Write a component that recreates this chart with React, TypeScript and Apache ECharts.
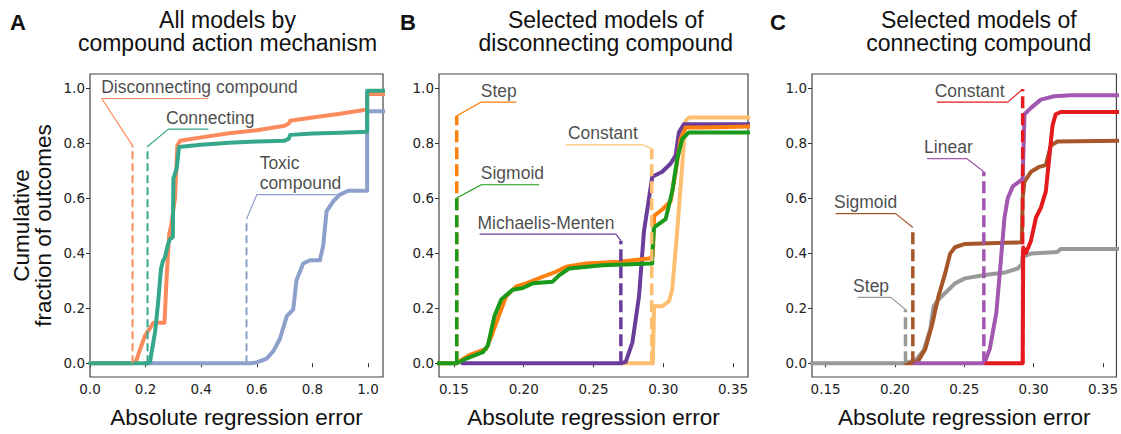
import React, { useEffect, useRef } from "react";
import * as echarts from "echarts";

const FONT = "'Liberation Sans', Arial, sans-serif";
const TICK_FONT = "'DejaVu Sans', sans-serif";

// ---------- tick values ----------
const ticksAX = [0, 0.2, 0.4, 0.6, 0.8, 1.0];
const ticksY = [0, 0.2, 0.4, 0.6, 0.8, 1.0];
const ticksBCX = [0.15, 0.2, 0.25, 0.3, 0.35];

// ---------- Panel A: all models by compound action mechanism ----------
const aDisconnecting = [[0,0],[0.155,0],[0.165,0.005],[0.18,0.05],[0.198,0.1],[0.21,0.118],[0.228,0.147],[0.268,0.147],[0.275,0.3],[0.285,0.469],[0.292,0.5],[0.3,0.56],[0.306,0.6],[0.314,0.79],[0.324,0.808],[0.4,0.82],[0.5,0.835],[0.6,0.846],[0.7,0.862],[0.715,0.87],[0.72,0.88],[0.8,0.892],[0.9,0.906],[0.997,0.921],[0.997,0.977],[1.06,0.977]];
const aConnecting = [[0,0],[0.21,0],[0.216,0.005],[0.225,0.06],[0.234,0.112],[0.245,0.22],[0.255,0.34],[0.262,0.37],[0.27,0.386],[0.28,0.43],[0.288,0.451],[0.298,0.457],[0.3,0.671],[0.312,0.707],[0.32,0.785],[0.4,0.793],[0.5,0.8],[0.6,0.805],[0.7,0.808],[0.715,0.815],[0.72,0.829],[0.8,0.834],[0.9,0.837],[0.997,0.84],[0.997,0.989],[1.06,0.989]];
const aToxic = [[0.2,0],[0.58,0],[0.6,0.003],[0.636,0.017],[0.66,0.045],[0.683,0.088],[0.708,0.171],[0.731,0.195],[0.743,0.302],[0.767,0.362],[0.791,0.374],[0.827,0.374],[0.839,0.427],[0.851,0.552],[0.875,0.588],[0.899,0.612],[0.929,0.626],[0.997,0.626],[0.997,0.915],[1.06,0.915]];

// ---------- Panel B: selected models of disconnecting compound ----------
const bStep = [[0.13,0],[0.1517,0],[0.161,0.029],[0.173,0.052],[0.177,0.1],[0.183,0.183],[0.1874,0.243],[0.1946,0.279],[0.2017,0.29],[0.2136,0.314],[0.2231,0.332],[0.2303,0.35],[0.2446,0.362],[0.2684,0.368],[0.2898,0.38],[0.2925,0.39],[0.2934,0.535],[0.2993,0.558],[0.3053,0.588],[0.3089,0.695],[0.3124,0.814],[0.316,0.856],[0.3279,0.856],[0.37,0.86]];
const bSigmoid = [[0.13,0],[0.152,0],[0.1589,0.017],[0.1707,0.04],[0.1743,0.064],[0.179,0.171],[0.1839,0.231],[0.1921,0.267],[0.1993,0.273],[0.2064,0.29],[0.2207,0.296],[0.2255,0.32],[0.2326,0.344],[0.2564,0.356],[0.2921,0.362],[0.2921,0.398],[0.2934,0.493],[0.3017,0.523],[0.3064,0.624],[0.31,0.743],[0.3136,0.814],[0.3183,0.838],[0.37,0.838]];
const bMichaelis = [[0.156,0],[0.2696,0],[0.2731,0.005],[0.2779,0.076],[0.2826,0.243],[0.2862,0.481],[0.2898,0.6],[0.2921,0.677],[0.2993,0.695],[0.3053,0.725],[0.3089,0.755],[0.3112,0.838],[0.3148,0.868],[0.37,0.868]];
const bConstant = [[0.27,0],[0.2925,0],[0.2934,0.207],[0.2993,0.207],[0.3041,0.225],[0.3064,0.267],[0.31,0.481],[0.3136,0.719],[0.316,0.88],[0.3183,0.892],[0.37,0.892]];

// ---------- Panel C: selected models of connecting compound ----------
const cStep = [[0.13,0],[0.2076,0],[0.2148,0.011],[0.2207,0.046],[0.2255,0.124],[0.2279,0.207],[0.2314,0.231],[0.2362,0.255],[0.2433,0.29],[0.2505,0.308],[0.2648,0.32],[0.2791,0.329],[0.2886,0.344],[0.2915,0.36],[0.2921,0.386],[0.2981,0.398],[0.3171,0.404],[0.3195,0.415],[0.37,0.415]];
const cSigmoid = [[0.208,0],[0.213,0],[0.2171,0.011],[0.2219,0.052],[0.2266,0.136],[0.2314,0.243],[0.2362,0.326],[0.2398,0.398],[0.2433,0.421],[0.2505,0.433],[0.2791,0.437],[0.2915,0.439],[0.2921,0.6],[0.2934,0.659],[0.2981,0.695],[0.3041,0.713],[0.3088,0.719],[0.3124,0.79],[0.3171,0.805],[0.37,0.808]];
const cLinear = [[0.214,0],[0.2645,0],[0.2684,0.052],[0.2731,0.183],[0.2766,0.386],[0.279,0.529],[0.2814,0.6],[0.285,0.642],[0.2898,0.66],[0.2921,0.67],[0.2934,0.904],[0.2981,0.927],[0.3052,0.957],[0.3148,0.969],[0.3267,0.973],[0.37,0.973]];
const cConstant = [[0.2655,0],[0.2921,0],[0.2925,0.42],[0.2945,0.4],[0.2981,0.445],[0.3017,0.529],[0.3052,0.564],[0.3088,0.624],[0.3112,0.743],[0.3136,0.862],[0.3159,0.904],[0.3195,0.912],[0.37,0.912]];

// ---------- annotations: dashed marker, leader line, label anchor ----------
const annA = [
  { text: "Disconnecting compound", color: "#fb8a5c", dash: [[0.153,0],[0.153,0.79]], leader: [[0.153,0.79],[0.042,0.961],[0.426,0.961]], at: [0.042,0.961] },
  { text: "Connecting", color: "#35a88c", dash: [[0.207,0],[0.207,0.787]], leader: [[0.207,0.787],[0.282,0.85],[0.426,0.85]], at: [0.275,0.85] },
  { text: "Toxic\ncompound", color: "#8da0cb", dash: [[0.563,0],[0.563,0.523]], leader: [[0.563,0.523],[0.6,0.612],[0.905,0.612]], at: [0.612,0.612] },
];
const annB = [
  { text: "Step", color: "#ff7f0e", dash: [[0.152,0],[0.152,0.898]], leader: [[0.152,0.898],[0.1696,0.948],[0.1946,0.948]], at: [0.1696,0.948] },
  { text: "Sigmoid", color: "#1a9a1a", dash: [[0.152,0],[0.152,0.6]], leader: [[0.152,0.6],[0.1696,0.648],[0.211,0.648]], at: [0.1696,0.648] },
  { text: "Michaelis-Menten", color: "#6a3d9a", dash: [[0.2696,0],[0.2696,0.445]], leader: [[0.2696,0.445],[0.266,0.469],[0.1684,0.469]], at: [0.1672,0.469] },
  { text: "Constant", color: "#fdbf6f", dash: [[0.2917,0],[0.2917,0.779]], leader: [[0.2917,0.779],[0.285,0.793],[0.2303,0.793]], at: [0.232,0.793] },
];
const annC = [
  { text: "Step", color: "#999999", dash: [[0.2076,0],[0.2076,0.195]], leader: [[0.2076,0.195],[0.197,0.239],[0.1731,0.239]], at: [0.1702,0.239] },
  { text: "Sigmoid", color: "#a65628", dash: [[0.2129,0],[0.2129,0.493]], leader: [[0.2129,0.493],[0.2005,0.543],[0.1571,0.543]], at: [0.1564,0.543] },
  { text: "Linear", color: "#a257b0", dash: [[0.2641,0],[0.2641,0.695]], leader: [[0.2641,0.695],[0.2517,0.743],[0.2231,0.743]], at: [0.2214,0.743] },
  { text: "Constant", color: "#e41a1c", dash: [[0.2921,0],[0.2921,0.995]], leader: [[0.2921,0.995],[0.2814,0.948],[0.2302,0.948]], at: [0.229,0.948] },
];

function curve(data: number[][], color: string, idx: number, z = 2) {
  return {
    type: "line", data, xAxisIndex: idx, yAxisIndex: idx, showSymbol: false, symbol: "none",
    lineStyle: { color, width: 4, join: "round", cap: "round" }, itemStyle: { color }, z, silent: true,
  };
}
function annSeries(list: any[], idx: number, dashWidth: number, dashPattern: number[]) {
  const out: any[] = [];
  list.forEach((a) => {
    out.push({
      type: "line", data: a.dash, xAxisIndex: idx, yAxisIndex: idx, showSymbol: false, symbol: "none",
      lineStyle: { color: a.color, width: dashWidth, type: dashPattern, cap: "butt" }, z: 5, silent: true,
    });
    out.push({
      type: "line", data: a.leader, xAxisIndex: idx, yAxisIndex: idx, showSymbol: false, symbol: "none",
      lineStyle: { color: a.color, width: 1.2 }, z: 5, silent: true,
    });
    out.push({
      type: "scatter", xAxisIndex: idx, yAxisIndex: idx, symbolSize: 1, itemStyle: { color: "transparent" },
      data: [{ name: a.text, value: a.at }], z: 6, silent: true,
      label: {
        show: true, formatter: "{b}", position: [0, -1], align: "left", verticalAlign: "bottom",
        fontSize: 17.5, lineHeight: 20, fontFamily: FONT, color: "#1a1a1a",
      },
    });
  });
  return out;
}

function xAxis(idx: number, min: number, max: number, ticks: number[], dec: number) {
  return {
    gridIndex: idx, type: "value", min, max,
    axisLine: { show: false }, splitLine: { show: false },
    axisTick: { show: true, length: 4, customValues: ticks, lineStyle: { color: "#333", width: 1 } },
    axisLabel: { customValues: ticks, formatter: (v: number) => v.toFixed(dec), fontSize: 13.5, fontFamily: TICK_FONT, color: "#222", margin: 5 },
    name: "Absolute regression error", nameLocation: "middle", nameGap: 29,
    nameTextStyle: { fontSize: 22.5, fontFamily: FONT, color: "#111" },
  };
}
function yAxis(idx: number, withName: boolean) {
  const ax: any = {
    gridIndex: idx, type: "value", min: -0.05, max: 1.05,
    axisLine: { show: false }, splitLine: { show: false },
    axisTick: { show: true, length: 4, customValues: ticksY, lineStyle: { color: "#333", width: 1 } },
    axisLabel: { customValues: ticksY, formatter: (v: number) => v.toFixed(1), fontSize: 13.5, fontFamily: TICK_FONT, color: "#222", margin: 5 },
  };
  if (withName) {
    ax.name = "Cumulative\nfraction of outcomes";
    ax.nameLocation = "middle";
    ax.nameRotate = 90;
    ax.nameGap = 36;
    ax.nameTextStyle = { fontSize: 22.5, lineHeight: 22, fontFamily: FONT, color: "#111", align: "center" };
  }
  return ax;
}

function titleText(x: number, text: string) {
  return {
    type: "text", x, y: 8, silent: true,
    style: { text, fontSize: 23, lineHeight: 23.5, fontFamily: FONT, fill: "#111", align: "center", textAlign: "center", verticalAlign: "top", textVerticalAlign: "top" },
  };
}
function letter(x: number, text: string) {
  return {
    type: "text", x, y: 11, silent: true,
    style: { text, fontSize: 22, fontWeight: "bold", fontFamily: FONT, fill: "#111", align: "left", textAlign: "left", verticalAlign: "top", textVerticalAlign: "top" },
  };
}

export default function App() {
  const ref = useRef<HTMLDivElement>(null);
  useEffect(() => {
    if (!ref.current) return;
    const chart = echarts.init(ref.current, null, { renderer: "svg" });
    const gridStyle = { show: true, borderColor: "#444", borderWidth: 1.2, backgroundColor: "transparent", containLabel: false };
    chart.setOption({
      animation: false,
      grid: [
        { ...gridStyle, left: 90, top: 74, width: 293, height: 308 },
        { ...gridStyle, left: 439, top: 74, width: 309, height: 308 },
        { ...gridStyle, left: 812, top: 74, width: 307, height: 308 },
      ],
      xAxis: [
        xAxis(0, 0, 1.054, ticksAX, 1),
        xAxis(1, 0.1393, 0.3607, ticksBCX, 2),
        xAxis(2, 0.1402, 0.3597, ticksBCX, 2),
      ],
      yAxis: [yAxis(0, true), yAxis(1, false), yAxis(2, false)],
      graphic: [
        titleText(227.5, "All models by\ncompound action mechanism"),
        titleText(605.8, "Selected models of\ndisconnecting compound"),
        titleText(978.8, "Selected models of\nconnecting compound"),
        letter(10, "A"),
        letter(400, "B"),
        letter(770, "C"),
      ],
      series: [
        curve(aToxic, "#8da0cb", 0),
        curve(aDisconnecting, "#fb8a5c", 0),
        curve(aConnecting, "#35a88c", 0),
        ...annSeries(annA, 0, 2, [8, 4]),
        curve(bConstant, "#fdbf6f", 1),
        curve(bMichaelis, "#6a3d9a", 1),
        curve(bStep, "#ff7f0e", 1),
        curve(bSigmoid, "#1a9a1a", 1),
        ...annSeries(annB, 1, 3.5, [12, 5]),
        curve(cStep, "#999999", 2),
        curve(cSigmoid, "#a65628", 2),
        curve(cLinear, "#a257b0", 2),
        curve(cConstant, "#e41a1c", 2),
        ...annSeries(annC, 2, 3.5, [12, 5]),
      ],
    });
    return () => chart.dispose();
  }, []);
  return <div ref={ref} style={{ position: "absolute", left: 0, top: 0, width: 1121, height: 434 }} />;
}
